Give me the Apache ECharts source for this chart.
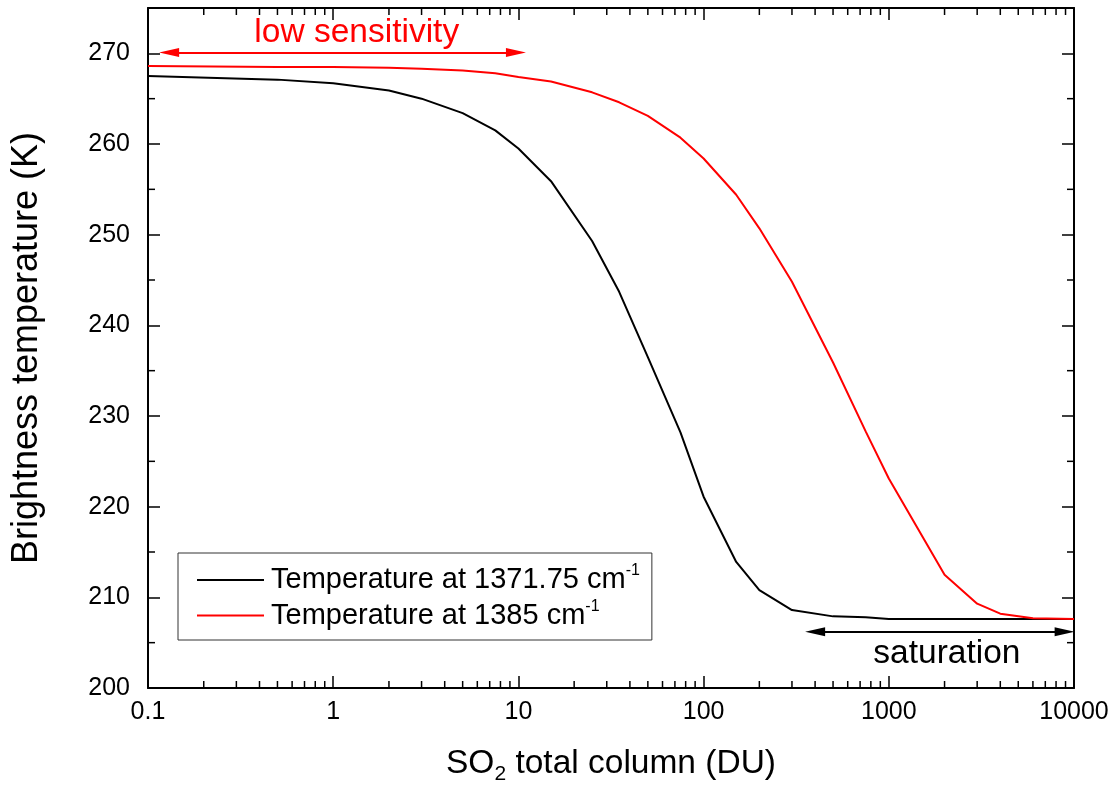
<!DOCTYPE html>
<html>
<head>
<meta charset="utf-8">
<script src="https://cdn.jsdelivr.net/npm/echarts@6/dist/echarts.min.js"></script>
<style>html,body{margin:0;padding:0;background:#fff}#main{width:1115px;height:790px}</style>
</head>
<body>
<div id="main"></div>
<script>
// ---- data ----
const xBlack = [0.1, 0.5, 1, 2, 3, 5, 7.5, 10, 15, 25, 35, 50, 75, 100, 150, 200, 300, 500, 750, 1000, 2000, 3000, 5000, 7500, 10000];
const yBlack = [267.5, 267.1, 266.7, 265.9, 265.0, 263.4, 261.5, 259.5, 255.9, 249.3, 243.7, 236.5, 228.2, 221.1, 213.9, 210.8, 208.6, 207.9, 207.8, 207.6, 207.6, 207.6, 207.6, 207.6, 207.6];
const xRed = [0.1, 0.5, 1, 2, 3, 5, 7.5, 10, 15, 25, 35, 50, 75, 100, 150, 200, 300, 500, 750, 1000, 2000, 3000, 4000, 6000, 10000];
const yRed = [268.6, 268.5, 268.5, 268.4, 268.3, 268.1, 267.8, 267.4, 266.9, 265.7, 264.6, 263.1, 260.7, 258.4, 254.4, 250.7, 244.8, 235.9, 228.3, 223.1, 212.5, 209.3, 208.2, 207.7, 207.6];
const seriesNames = ['Temperature at 1371.75 cm-1', 'Temperature at 1385 cm-1'];
const xTickLabels = ['0.1', '1', '10', '100', '1000', '10000'];
const xMinorTicks = [0.2,0.3,0.4,0.5,0.6,0.7,0.8,0.9, 2,3,4,5,6,7,8,9, 20,30,40,50,60,70,80,90, 200,300,400,500,600,700,800,900, 2000,3000,4000,5000,6000,7000,8000,9000];
const yMinorTicks = [205, 215, 225, 235, 245, 255, 265];
// annotations (data coordinates; arrow ends = arrowhead centres)
const lowSensArrowX = [0.13, 9.7];
const lowSensArrowY = 270.1;
const lowSensLabel = {text: 'low sensitivity', x: 1.34, y: 272.3};
const satArrowX = [400, 8900];
const satArrowY = 206.2;
const satLabel = {text: 'saturation', x: 2060, y: 203.8};

const FONT = '"Liberation Sans", Arial, Helvetica, sans-serif';
const chart = echarts.init(document.getElementById('main'), null, {renderer: 'canvas'});

const commonX = {
  type: 'log', logBase: 10, min: 0.1, max: 10000,
  axisLine: {show: true, onZero: false, lineStyle: {color: '#000', width: 2}},
  axisTick: {show: true, inside: true, length: 12, lineStyle: {color: '#000', width: 1.5}},
  splitLine: {show: false}, minorTick: {show: false}
};
const commonY = {
  type: 'value', min: 200, max: 275, interval: 10,
  axisLine: {show: true, onZero: false, lineStyle: {color: '#000', width: 2}},
  axisTick: {show: true, inside: true, length: 12, lineStyle: {color: '#000', width: 1.5}},
  splitLine: {show: false}
};

const option = {
  animation: false,
  backgroundColor: '#fff',
  textStyle: {fontFamily: FONT},
  grid: {left: 148, right: 41, top: 8, bottom: 102, containLabel: false},
  xAxis: [
    Object.assign({}, commonX, {
      position: 'bottom',
      axisLabel: {show: true, color: '#000', fontSize: 25, fontFamily: FONT, margin: 12,
        formatter: v => xTickLabels[Math.round(Math.log10(v)) + 1]},
      name: '{a|SO}{b|2}{a| total column (DU)}',
      nameLocation: 'middle', nameGap: 55,
      nameTextStyle: {color: '#000', fontFamily: FONT,
        rich: {a: {fontSize: 33.5, lineHeight: 42, color: '#000', fontFamily: FONT},
               b: {fontSize: 21, lineHeight: 21, verticalAlign: 'bottom', color: '#000', fontFamily: FONT}}}
    }),
    Object.assign({}, commonX, {position: 'top', axisLabel: {show: false}})
  ],
  yAxis: [
    Object.assign({}, commonY, {
      position: 'left',
      axisLabel: {show: true, color: '#000', fontSize: 25, fontFamily: FONT, margin: 18, showMaxLabel: false,
        formatter: v => (v % 10 === 0 ? String(v) : '')},
      name: 'Brightness temperature (K)', nameLocation: 'middle', nameGap: 103,
      nameTextStyle: {color: '#000', fontSize: 36, fontFamily: FONT}
    }),
    Object.assign({}, commonY, {position: 'right', axisLabel: {show: false}})
  ],
  legend: {
    show: true, orient: 'vertical', left: 178, top: 553,
    padding: [10, 12, 10, 19], itemGap: 4, itemWidth: 67, itemHeight: 2,
    icon: 'path://M0,0 H67 V2 H0 Z',
    borderColor: '#333', borderWidth: 1, backgroundColor: '#fff',
    data: seriesNames,
    formatter: name => '{t|' + name.replace('-1', '') + '}{s|-1}',
    textStyle: {color: '#000', fontFamily: FONT, padding: [0, 0, 0, 2],
      rich: {t: {fontSize: 29, lineHeight: 34, color: '#000', fontFamily: FONT},
             s: {fontSize: 16, lineHeight: 16, verticalAlign: 'top', color: '#000', fontFamily: FONT}}}
  },
  series: [
    {
      name: seriesNames[0], type: 'line', xAxisIndex: 0, yAxisIndex: 0,
      data: xBlack.map((x, i) => [x, yBlack[i]]),
      symbol: 'none', showSymbol: false, lineStyle: {color: '#000', width: 2}, itemStyle: {color: '#000'}, z: 3,
      markLine: {
        silent: true, symbol: ['triangle', 'triangle'], symbolSize: [9, 20],
        lineStyle: {color: '#000', width: 2, type: 'solid'}, label: {show: false},
        data: [[{coord: [satArrowX[0], satArrowY]}, {coord: [satArrowX[1], satArrowY]}]]
      },
      markPoint: {
        silent: true, symbol: 'circle', symbolSize: 1, itemStyle: {color: 'rgba(0,0,0,0)'},
        label: {show: true, position: 'inside', color: '#000', fontSize: 33.5, fontFamily: FONT, formatter: p => p.name},
        data: [{name: satLabel.text, coord: [satLabel.x, satLabel.y]}]
      }
    },
    {
      name: seriesNames[1], type: 'line', xAxisIndex: 0, yAxisIndex: 0,
      data: xRed.map((x, i) => [x, yRed[i]]),
      symbol: 'none', showSymbol: false, lineStyle: {color: '#ff0000', width: 2}, itemStyle: {color: '#ff0000'}, z: 4,
      markLine: {
        silent: true, symbol: ['triangle', 'triangle'], symbolSize: [9, 20],
        lineStyle: {color: '#ff0000', width: 2, type: 'solid'}, label: {show: false},
        data: [[{coord: [lowSensArrowX[0], lowSensArrowY]}, {coord: [lowSensArrowX[1], lowSensArrowY]}]]
      },
      markPoint: {
        silent: true, symbol: 'circle', symbolSize: 1, itemStyle: {color: 'rgba(0,0,0,0)'},
        label: {show: true, position: 'inside', color: '#ff0000', fontSize: 33.5, fontFamily: FONT, formatter: p => p.name},
        data: [{name: lowSensLabel.text, coord: [lowSensLabel.x, lowSensLabel.y]}]
      }
    },
    {
      name: 'xminor', type: 'custom', xAxisIndex: 0, yAxisIndex: 0, silent: true, clip: false, z: 5,
      data: xMinorTicks.map(v => [v, 200]),
      renderItem: (params, api) => {
        const v = api.value(0);
        const b = api.coord([v, 200]);
        const t = api.coord([v, 275]);
        const st = {stroke: '#000', lineWidth: 1.5};
        return {type: 'group', children: [
          {type: 'line', shape: {x1: b[0], y1: b[1], x2: b[0], y2: b[1] - 7}, style: st},
          {type: 'line', shape: {x1: t[0], y1: t[1], x2: t[0], y2: t[1] + 7}, style: st}
        ]};
      }
    },
    {
      name: 'yminor', type: 'custom', xAxisIndex: 0, yAxisIndex: 0, silent: true, clip: false, z: 5,
      data: yMinorTicks.map(v => [0.1, v]),
      renderItem: (params, api) => {
        const v = api.value(1);
        const l = api.coord([0.1, v]);
        const r = api.coord([10000, v]);
        const st = {stroke: '#000', lineWidth: 1.5};
        return {type: 'group', children: [
          {type: 'line', shape: {x1: l[0], y1: l[1], x2: l[0] + 7, y2: l[1]}, style: st},
          {type: 'line', shape: {x1: r[0], y1: r[1], x2: r[0] - 7, y2: r[1]}, style: st}
        ]};
      }
    }
  ]
};
chart.setOption(option);
</script>
</body>
</html>
